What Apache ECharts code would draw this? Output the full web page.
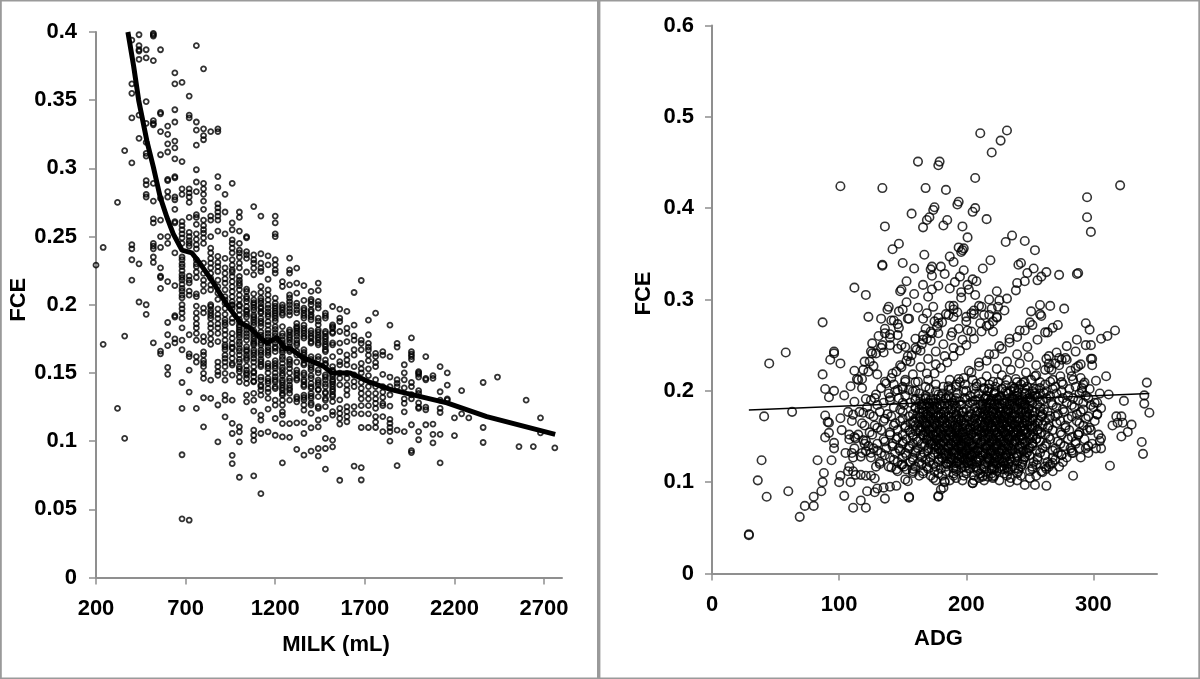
<!DOCTYPE html>
<html><head><meta charset="utf-8">
<style>html,body{margin:0;padding:0;background:#fff}#c{width:1200px;height:679px}</style>
<script src="https://cdn.jsdelivr.net/npm/echarts@6/dist/echarts.min.js"></script>
</head><body><div id="c"></div>
<script>
// ---------- Left panel: FCE by MILK (mL) ----------
const milkColumns = [200,240,320,360,400,440,480,520,560,600,640,680,720,760,800,840,880,920,960,1000,1040,1080,1120,1160,1200,1240,1280,1320,1360,1400,1440,1480,1520,1560,1600,1640,1680,1720,1760,1800,1840,1880,1920,1960,2000,2040,2080,2120,2160,2200,2240,2280,2360,2440,2560,2600,2640,2680,2760];
const fceByMilk = [
[.229],
[.242,.171],
[.275,.124],
[.313,.177,.102],
[.394,.362,.355,.337,.304,.244,.241,.233,.218],
[.398,.39,.387,.386,.38,.339,.322,.23,.202],
[.387,.381,.349,.333,.319,.311,.309,.291,.288,.281,.279,.2,.193],
[.399,.398,.397,.379,.335,.333,.332,.289,.276,.263,.26,.245,.243,.241,.235,.231,.172],
[.387,.341,.34,.327,.31,.278,.262,.25,.242,.227,.221,.22,.212,.166,.164],
[.331,.325,.318,.312,.292,.291,.283,.279,.25,.245,.217,.187,.178,.17,.154,.149],
[.37,.362,.343,.334,.32,.315,.307,.294,.293,.279,.277,.27,.261,.26,.238,.214,.192,.191,.175,.172],
[.363,.305,.285,.281,.261,.258,.255,.252,.249,.245,.235,.233,.23,.228,.225,.222,.22,.218,.215,.212,.21,.207,.205,.2,.197,.194,.19,.183,.174,.167,.143,.124,.09,.043],
[.353,.339,.337,.285,.282,.279,.275,.264,.253,.25,.247,.245,.243,.221,.218,.216,.21,.207,.178,.164,.162,.152,.136,.042],
[.39,.334,.328,.317,.299,.29,.283,.266,.264,.259,.252,.248,.244,.241,.233,.23,.228,.224,.22,.208,.206,.199,.194,.19,.186,.183,.179,.174,.162,.158,.124],
[.373,.329,.324,.321,.289,.285,.281,.276,.27,.262,.258,.255,.2525,.249,.245,.2305,.223,.218,.2146,.21,.1975,.194,.1766,.173,.1655,.163,.159,.157,.1546,.1497,.146,.1318,.1105],
[.327,.265,.262,.25,.2415,.238,.234,.2305,.227,.223,.2195,.2146,.211,.1987,.194,.19,.186,.183,.179,.175,.1447,.1313],
[.329,.327,.294,.286,.274,.271,.268,.265,.262,.254,.2354,.228,.2244,.218,.2133,.2085,.19,.186,.183,.179,.158,.1546,.151,.1483,.1265,.0994],
[.281,.268,.252,.234,.227,.223,.2158,.211,.206,.2011,.1974,.189,.185,.1815,.178,.174,.1705,.167,.163,.1607,.1546,.1497,.1447,.1337,.13,.1178],
[.289,.26,.255,.2476,.245,.2415,.238,.233,.229,.2256,.2207,.217,.2133,.2097,.206,.2023,.1974,.19,.1754,.1717,.168,.1644,.1607,.1558,.1484,.13,.113,.1056,.0896,.0835],
[.268,.264,.254,.245,.24,.238,.235,.2305,.2207,.218,.2158,.211,.207,.2036,.2,.196,.1925,.189,.185,.1815,.178,.173,.168,.1632,.158,.1546,.151,.147,.1435,.1105,.1068,.0994,.0735],
[.25,.249,.239,.2366,.234,.224,.2097,.206,.2023,.1987,.195,.191,.1864,.1815,.1766,.1692,.1656,.163,.1595,.152,.1485,.146,.1423,.1337,.1288],
[.272,.2366,.233,.2305,.2268,.222,.2036,.2,.196,.1925,.189,.185,.179,.175,.1717,.1705,.1668,.163,.1607,.1546,.151,.1472,.1435,.135,.13,.122,.108,.1043,.1006,.0745],
[.265,.2374,.2305,.2268,.2244,.2134,.2048,.2011,.1974,.1938,.1901,.1864,.1778,.1742,.1705,.1668,.1631,.1582,.1546,.1448,.1411,.1374,.1337,.119,.1154,.1056,.0615],
[.2359,.2293,.2187,.2109,.2072,.2036,.195,.1913,.1876,.1815,.1766,.1717,.1668,.1631,.157,.1533,.146,.1423,.1386,.1313,.1234,.1068],
[.265,.26,.252,.25,.233,.2293,.2256,.2232,.2048,.2011,.1974,.1938,.1901,.184,.1791,.1742,.1693,.1656,.157,.1533,.1472,.1435,.1386,.13,.1264,.1166,.1043],
[.217,.2134,.1999,.1962,.1925,.179,.1742,.1705,.1668,.1619,.157,.1521,.1497,.1448,.1411,.1374,.1337,.13,.1264,.1215,.119,.1129,.1031,.084],
[.2342,.2256,.2232,.2146,.2072,.2023,.1974,.1925,.1815,.1778,.1742,.1692,.1656,.1582,.1533,.146,.1411,.1374,.135,.13,.1129,.1028],
[.2268,.2158,.2085,.2011,.1962,.1864,.1827,.1791,.1742,.1705,.1631,.1521,.1484,.1448,.1325,.1288,.1134,.094],
[.214,.2032,.1975,.1939,.1902,.1828,.1791,.1755,.167,.1632,.1596,.1559,.1485,.1436,.1412,.1338,.1302,.1265,.1228,.1135,.1056,.0897],
[.2098,.2024,.2,.1963,.1926,.189,.1791,.1755,.1718,.162,.1559,.1522,.1461,.1424,.1387,.135,.1314,.1265,.1204,.1098,.0926],
[.2159,.2105,.2024,.1975,.1902,.1853,.1816,.1779,.1743,.1706,.162,.1522,.1448,.1412,.1375,.1326,.1253,.1155,.1105,.0946,.089],
[.1939,.1902,.1804,.1767,.173,.1693,.1657,.1595,.1559,.1485,.1448,.14,.135,.1314,.1253,.1167,.102,.0946,.0794],
[.1987,.1853,.1828,.1791,.1706,.162,.1547,.151,.1473,.1436,.14,.1363,.1326,.1289,.1216,.1191,.1007,.0958],
[.1968,.1902,.1877,.1804,.1718,.1657,.1583,.1559,.1498,.1461,.1412,.1302,.124,.1203,.1167,.1125,.0713],
[.1951,.1828,.1791,.173,.1632,.1595,.1559,.1497,.1461,.1412,.1375,.1338,.1252,.1216,.1179,.1142],
[.209,.185,.1772,.174,.167,.163,.1546,.1485,.1436,.14,.1253,.1204,.0817],
[.2178,.174,.1717,.167,.157,.153,.15,.143,.1387,.135,.131,.126,.12,.11,.0806,.0715],
[.1887,.178,.1717,.169,.1668,.163,.159,.153,.148,.14,.135,.131,.126,.12,.11],
[.1938,.1644,.162,.1575,.1546,.145,.14,.135,.131,.1277,.124,.118,.114,.11],
[.1656,.163,.149,.14,.136,.132,.1277,.126,.118,.107],
[.185,.162,.147,.14,.134,.1257,.116,.113,.11,.107,.1],
[.1717,.169,.145,.1424,.14,.108,.082],
[.156,.15,.145,.139,.131,.1277,.1215,.107],
[.1757,.1656,.1637,.162,.16,.143,.14,.134,.131,.112,.093,.0916],
[.151,.15,.149,.147,.137,.135,.128,.125,.124,.107,.101],
[.162,.146,.145,.125,.123,.112],
[.148,.146,.1125,.105,.0987],
[.1546,.1362,.13,.124,.121,.105,.084],
[.15,.141,.131,.13],
[.117,.104],
[.137,.12],
[.117],
[.143,.11,.099],
[.147],
[.096],
[.13],
[.096],
[.117,.106],
[.095]
];
const milkDenseColumns = [840,880,920,960,1000,1040,1080,1120,1160,1200,1240,1280,1320,1360,1400,1440,1480,1520];
const milkDenseFce = [
[.2,.196,.192,.171],
[.231,.204,.197,.193,.173],
[.219,.2035,.193,.187,.169,.158],
[.224,.2,.1995,.187,.179,.169,.157],
[.227,.214,.199,.1875,.1835,.18,.176,.171,.166,.16,.153],
[.2115,.2045,.196,.193,.184,.179,.174,.167,.161,.155,.15],
[.208,.2015,.198,.191,.187,.181,.177,.173,.165,.158,.15,.144],
[.209,.203,.1985,.195,.188,.184,.18,.176,.172,.165,.16,.156,.147,.14],
[.2,.1975,.193,.185,.179,.174,.169,.165,.155,.15,.144,.136],
[.199,.1955,.192,.188,.182,.177,.172,.168,.159,.155,.15,.145,.14],
[.198,.194,.184,.177,.172,.168,.165,.16,.154,.148,.143,.139,.135],
[.205,.2,.195,.18,.176,.172,.167,.16,.156,.15,.144,.139],
[.199,.194,.184,.181,.177,.172,.166,.158,.15,.146,.131],
[.196,.192,.185,.181,.177,.165,.161,.157,.15,.145,.14,.132],
[.204,.195,.191,.181,.177,.173,.16,.154,.148,.14,.133,.128],
[.2,.188,.18,.176,.172,.16,.15,.143,.138,.124],
[.192,.179,.175,.171,.167,.157,.147,.142,.136,.13],
[.184,.18,.172,.152,.149,.145,.142,.138,.134]
];
const milkTrendX = [378,410,438,484,520,558,596,631,680,735,782,855,930,1005,1060,1105,1155,1209,1255,1283,1356,1468,1516,1618,1730,1842,1934,2158,2380,2762];
const milkTrendY = [.4,.375,.35,.32,.301,.279,.264,.252,.24,.238,.23,.216,.2,.187,.183,.177,.172,.176,.168,.168,.161,.155,.15,.15,.143,.138,.135,.128,.118,.105];
const milkTicks = [200,700,1200,1700,2200,2700];

// ---------- Right panel: FCE by ADG ----------
const adgSparse = [29,29,69,73,80,80,86,87,88,83,94,96,96,89,92,92,91,89,101,92,89,96,87,93,101,96,96,58,45,63,41,39,36,43,60,100,104,111,121,117,136,155,178,180,183,205,122,128,130,135,140,145,101,108,107,111,113,117,121,125,128,109,105,110,111,117,125,121,129,132,141,145,149,153,158,152,154,108,119,121,113,111,107,119,112,121,118,130,123,127,120,126,125,135,140,146,149,101,134,136,134,112,121,87,123,133,
211,220,227,232,162,179,178,207,168,184,194,193,207,205,175,174,157,171,169,166,185,182,197,216,236,231,246,254,295,321,295,298,198,197,196,167,150,159,173,172,190,219,213,183,198,195,191,205,201,187,196,207,153,149,148,173,243,241,253,248,263,259,256,240,273,288,287,226,258,251,259,277,294,297,317,311,306,298,268,262,
342,340,340,344,324,312,305,322,318,315,319,323,330,327,322,338,339,313,284,246,254,263,310,302,299,299,288,286,279,273,273,265,265,267,283,290,293,291,306,303,303,306,305,306,298,289,283,288,275,268,265,260,238,233,228,234,221,217,213,220,210,217,205,183,182,178,155,
147,142,134,138,139,150,143,155,166,169,174,187,178,175,193,190,200,204,206,210,214,220,224,221,216,136,146,166,178,189,201,221];
const fceSparse = [.042,.043,.062,.074,.074,.084,.09,.1,.11,.124,.124,.137,.143,.149,.154,.165,.166,.173,.17,.193,.202,.2,.218,.234,.23,.243,.241,.242,.23,.177,.172,.124,.102,.084,.09,.1,.085,.072,.072,.08,.082,.083,.084,.092,.1,.099,.09,.089,.093,.094,.095,.096,.107,.117,.112,.112,.108,.108,.107,.107,.104,.1,.132,.132,.127,.128,.132,.134,.117,.12,.116,.114,.119,.114,.11,.103,.101,.152,.146,.145,.148,.174,.177,.176,.188,.191,.213,.218,.221,.227,.232,.241,.243,.242,.25,.246,.25,.424,.422,.38,.337,.313,.305,.275,.281,.279,
.482,.461,.474,.485,.451,.451,.447,.433,.422,.42,.407,.404,.4,.396,.401,.398,.394,.39,.387,.379,.387,.381,.38,.388,.37,.363,.364,.354,.412,.425,.39,.374,.356,.354,.352,.349,.34,.334,.336,.333,.341,.343,.334,.328,.332,.325,.319,.322,.316,.312,.308,.305,.32,.311,.309,.311,.34,.338,.334,.329,.33,.325,.321,.318,.327,.329,.328,.299,.294,.287,.282,.29,.274,.267,.266,.26,.257,.25,.269,.264,
.209,.195,.186,.176,.189,.196,.197,.172,.172,.162,.165,.165,.163,.155,.15,.144,.131,.118,.107,.097,.097,.096,.216,.211,.235,.228,.227,.225,.234,.236,.228,.238,.23,.223,.216,.214,.209,.203,.181,.174,.187,.148,.145,.137,.157,.137,.132,.152,.13,.121,.117,.111,.115,.114,.114,.1,.106,.106,.106,.114,.126,.126,.099,.101,.094,.085,.084,
.361,.355,.338,.289,.292,.289,.277,.279,.279,.285,.292,.293,.28,.276,.286,.281,.281,.285,.288,.293,.283,.29,.281,.276,.271,.263,.261,.261,.263,.264,.266,.265];
const rayAdg = [125,129,133,137,141,145,149,153,157,161,165,169,173,177,181,186,190,150,160,170,175,180,185,190,195,200,206,212,218,224,230,180,186,192,198,204,210,216,222,228,234,240,246,252,200,207,214,221,228,235,242,249,225,235,245,255,265,275,152,160,168,156,164,172,112,115,118,133,140,147,154,162,170,178,
140,146,152,158,164,170,176,182,188,194,200,206,212,218,224,136,142,148,154,160,166,172,178,184,190,196,202,208,155,162,169,176,183,190,197,204,211,218,225,232,239,246,170,178,186,194,202,210,218,226,234,242,250,258,266,192,200,208,216,224,232,240,248,256,264,272,215,223,231,239,247,255,263,271,279,287,126,131,136,141,147,153,159,166,173,180,187,194,201,104,109,114,119,124,129,134,140,146,238,246,254,262,270,278,286,294,250,258,266,274,282,290,298];
const rayFce = [.19,.196,.203,.208,.214,.221,.226,.233,.239,.245,.251,.257,.263,.27,.275,.283,.289,.187,.2,.212,.219,.225,.231,.238,.244,.25,.257,.265,.272,.28,.288,.194,.201,.207,.214,.22,.227,.233,.24,.246,.253,.259,.266,.272,.19,.197,.203,.21,.217,.223,.23,.237,.19,.2,.209,.217,.225,.234,.248,.257,.268,.232,.244,.255,.222,.212,.203,.247,.258,.269,.279,.291,.303,.315,
.193,.201,.21,.218,.226,.235,.243,.251,.26,.268,.276,.284,.292,.3,.309,.21,.219,.228,.238,.247,.256,.265,.274,.284,.293,.302,.311,.32,.201,.21,.219,.229,.238,.247,.256,.265,.274,.283,.292,.301,.31,.32,.187,.196,.205,.213,.222,.231,.24,.249,.257,.266,.275,.284,.293,.192,.2,.208,.216,.224,.232,.24,.248,.256,.264,.272,.192,.199,.206,.213,.22,.228,.235,.242,.249,.256,.252,.26,.268,.277,.287,.297,.306,.316,.326,.336,.347,.357,.368,.195,.205,.213,.223,.232,.241,.25,.262,.273,.203,.21,.216,.223,.23,.236,.243,.25,.197,.203,.21,.216,.222,.229,.235];
const blobFce = [.212,.207,.202,.197,.192,.187,.182,.177,.172,.167,.162,.157,.152,.147,.142,.137,.132,.127,.122,.117,.112,.107,.102,
.2095,.2045,.1995,.1945,.1895,.1845,.1795,.1745,.1695,.1645,.1595,.1545,.1495,.1445,.1395,.1345,.1295,.1245,.1195,.1145,.1095,.1045,
.191,.186,.181,.176,.171,.166,.161,.156,.151,.146,.141,.136,.131,.126,.121,.1155,
.2025,.1975,.193,.1885,.1775,.1725,.1675,.1625,.1575,.1525,.1475,.1425,.1375,.1325,.1275,.1225];
const blobAdg = [
[152,187,205,232,251,268,284],
[143,176,199,218,243,262,276,292],
[150,171,188,206,214,228,241,255,268,281,297],
[139,163,181,193,210,222,233,246,258,271,289],
[128,147,168,184,199,215,224,237,250,263,276,284,296],
[135,156,174,189,203,218,230,243,252,267,279,292,301],
[122,143,160,171,177,192,207,216,226,238,246,258,271,285,300],
[116,132,150,166,172,183,197,209,221,227,233,244,254,264,277,290],
[127,141,155,163,170,178,186,201,212,219,225,230,236,248,259,270,283,296],
[110,135,148,158,166,174,181,189,196,204,211,217,223,229,235,241,250,262,274,287,301],
[120,128,143,152,160,168,176,184,191,199,207,214,220,226,232,238,244,252,265,278,292],
[102,133,146,155,163,171,179,186,194,202,209,216,222,228,234,240,246,256,268,281,295],
[115,126,140,150,158,166,174,181,189,197,204,212,218,225,231,237,243,250,262,275,288,304],
[108,135,145,153,161,169,177,184,192,200,208,215,221,227,233,239,245,255,266,280,293],
[120,130,142,150,158,165,173,180,188,196,204,211,218,224,231,237,244,252,263,274,286,299],
[112,127,137,147,155,162,170,178,186,194,201,209,215,222,228,235,241,249,260,270,282,294,302],
[118,133,144,152,160,167,175,183,191,198,206,213,219,226,232,239,247,258,272,284,296],
[125,140,150,158,165,172,181,188,196,203,211,217,224,231,238,246,256,268,279,290],
[132,146,156,163,171,178,186,193,201,208,215,222,229,236,244,253,264,276],
[139,151,160,169,176,184,192,199,207,214,221,228,236,243,252,262,273],
[146,158,166,175,184,192,200,209,216,224,233,241,250,259,268],
[163,172,181,190,198,206,213,222,232,243,255],
[176,187,197,206,214,226,240],
[160,195,212,225,240,258,275],
[150,168,182,192,208,223,236,248,270,286],
[144,158,176,198,217,231,238,252,263,275,291],
[152,168,186,203,216,227,240,254,266,280,294],
[140,160,172,191,207,219,229,241,250,260,273,288],
[130,151,165,180,196,211,222,234,246,256,268,283,298],
[148,163,174,188,200,213,222,232,241,249,261,276,292],
[124,138,158,169,180,192,204,215,224,231,238,250,260,272,287,303],
[136,150,160,172,182,194,207,216,227,233,241,252,265,280,294],
[118,144,156,168,175,185,198,208,219,228,236,245,256,271,289],
[130,152,164,174,183,193,203,213,220,227,235,243,252,264,278,297],
[124,140,156,167,177,187,197,206,214,224,230,238,248,259,274,289],
[112,146,158,170,180,190,199,207,217,226,234,242,252,265,283],
[136,150,162,172,182,192,202,212,220,229,238,247,258,272,286],
[123,142,155,167,176,186,196,205,216,224,233,242,252,262,277,296],
[130,148,160,170,180,190,200,209,219,228,236,245,255,268,283],
[136,153,164,174,184,194,204,213,222,231,240,250,262,275],
[143,158,168,178,188,198,208,218,226,235,245,256,270],
[150,165,174,185,195,205,215,224,233,244,255,266],
[158,170,180,192,203,212,222,230,241,252,263],
[166,178,190,200,211,220,230,240],
[174,192,210,221,235,250],
[160,164,168,172,176,180,184,188,210,214,217,220,224,228,232,236,240,244,248],
[163,167,171,175,179,183,187,191,213,216,219,222,226,230,234,238,242,246],
[160,165,169,173,177,181,185,189,212,215,218,221,225,229,233,237,241,245,249],
[162,166,170,174,178,182,186,190,211,214,217,220,223,227,231,235,239,243,247],
[164,168,172,176,180,184,188,192,213,216,219,222,226,230,234,238,242,246],
[159,163,167,171,175,179,183,187,212,215,218,221,224,228,232,236,240,244,248],
[165,169,173,177,181,185,189,193,214,217,220,223,227,231,235,239,243],
[160,164,168,172,176,180,184,188,192,211,214,218,222,226,229,233,237,241,245],
[166,170,174,178,182,186,190,194,215,219,223,227,231,235,239,243],
[169,173,177,181,185,189,193,197,214,218,222,226,230,234,238,242],
[172,176,180,184,188,192,196,213,217,221,225,229,233,237],
[175,179,183,187,191,195,199,216,220,224,228,232,236],
[178,182,186,190,194,198,202,215,219,223,227,231,235],
[181,185,189,193,197,201,218,222,226,230,234],
[184,188,192,196,200,204,217,221,225,229,233],
[190,196,202,208,214,220,226,232],
[218,228,238,246,253],
[222,232,240,247,254,261],
[226,236,244,250,256],
[195,205,236,244,251,258],
[194,198,203,208,247,252,258],
[193,197,202,207,248,253,259,266],
[192,196,200,205,209,246,252,257],
[194,199,203,207,248,254,260],
[192,197,201,206,210,246,251,256],
[195,199,204,208,247,253,258],
[193,198,202,207,244,250,255],
[196,200,205,209,246,252],
[197,202,206,210,244,250],
[199,203,207,211,243,248],
[201,205,209,240,246],
[203,208,240]
];
const adgTrendX = [29,344];
const adgTrendY = [.179,.197];
const adgTicks = [0,100,200,300];

// ---------- Build ----------
const milkPoints = [];
milkColumns.forEach((m,i)=>fceByMilk[i].forEach(v=>milkPoints.push([m,v])));
milkDenseColumns.forEach((m,i)=>milkDenseFce[i].forEach(v=>milkPoints.push([m,v])));
const adgPoints = [];
adgSparse.forEach((a,i)=>adgPoints.push([a,fceSparse[i]]));
rayAdg.forEach((a,i)=>adgPoints.push([a,rayFce[i]]));
blobFce.forEach((f,i)=>blobAdg[i].forEach(a=>adgPoints.push([a,f])));

const font = '"Liberation Sans", Arial, Helvetica, sans-serif';
const axisGrey = '#8f8f8f';
const plain = v => String(v);
const lab = {fontFamily:font,fontWeight:'bold',fontSize:22,color:'#000'};
const nameStyle = {fontFamily:font,fontWeight:'bold',fontSize:22,color:'#000'};
function axisCommon(){return {
  axisLine:{show:true,onZero:false,lineStyle:{color:axisGrey,width:2}},
  axisTick:{show:true,length:7,lineStyle:{color:axisGrey,width:1.5}},
  splitLine:{show:false}
};}
const frame = [[0,0,1200,1.5],[0,677.6,1200,1.4],[0,0,1.8,679],[1198.3,0,1.7,679],[597,0,3.4,679]];
const chart = echarts.init(document.getElementById('c'),null,{renderer:'canvas'});
chart.setOption({
  animation:false,
  backgroundColor:'#fff',
  graphic:frame.map(r=>({type:'rect',silent:true,shape:{x:r[0],y:r[1],width:r[2],height:r[3]},style:{fill:'#9a9a9a'}})),
  grid:[
    {left:96,top:32,width:466,height:545.5},
    {left:712,top:25.5,width:445,height:548}
  ],
  xAxis:[
    Object.assign(axisCommon(),{gridIndex:0,type:'value',min:200,max:2800,interval:500,
      name:'MILK (mL)',nameLocation:'middle',nameGap:56,nameTextStyle:Object.assign({},nameStyle,{padding:[0,0,0,14]}),
      axisTick:{show:true,length:7,lineStyle:{color:axisGrey,width:1.5},customValues:milkTicks},
      axisLabel:Object.assign({},lab,{margin:20,formatter:plain,customValues:milkTicks})}),
    Object.assign(axisCommon(),{gridIndex:1,type:'value',min:0,max:350,interval:100,
      name:'ADG',nameLocation:'middle',nameGap:54,nameTextStyle:Object.assign({},nameStyle,{padding:[0,0,0,8]}),
      axisTick:{show:true,length:7,lineStyle:{color:axisGrey,width:1.5},customValues:adgTicks},
      axisLabel:Object.assign({},lab,{margin:20,formatter:plain,customValues:adgTicks})})
  ],
  yAxis:[
    Object.assign(axisCommon(),{gridIndex:0,type:'value',min:0,max:.4,interval:.05,
      name:'FCE',nameLocation:'middle',nameGap:66,nameTextStyle:Object.assign({},nameStyle,{padding:[0,0,0,10]}),
      axisLabel:Object.assign({},lab,{margin:19,formatter:plain})}),
    Object.assign(axisCommon(),{gridIndex:1,type:'value',min:0,max:.6,interval:.1,
      name:'FCE',nameLocation:'middle',nameGap:57,nameTextStyle:Object.assign({},nameStyle,{padding:[0,0,0,12]}),
      axisLabel:Object.assign({},lab,{margin:18,formatter:plain})})
  ],
  series:[
    {type:'scatter',xAxisIndex:0,yAxisIndex:0,data:milkPoints,symbol:'circle',symbolSize:5,
     itemStyle:{color:'transparent',borderColor:'#000',borderWidth:1.8},emphasis:{disabled:true},clip:false},
    {type:'line',xAxisIndex:0,yAxisIndex:0,data:milkTrendX.map((x,i)=>[x,milkTrendY[i]]),symbol:'none',smooth:false,
     lineStyle:{color:'#000',width:5},z:5,clip:false},
    {type:'scatter',xAxisIndex:1,yAxisIndex:1,data:adgPoints,symbol:'circle',symbolSize:8.5,
     itemStyle:{color:'transparent',borderColor:'#000',borderWidth:1.6},emphasis:{disabled:true},clip:false},
    {type:'line',xAxisIndex:1,yAxisIndex:1,data:adgTrendX.map((x,i)=>[x,adgTrendY[i]]),symbol:'none',
     lineStyle:{color:'#000',width:1.5},z:5,clip:false}
  ]
});
</script></body></html>
